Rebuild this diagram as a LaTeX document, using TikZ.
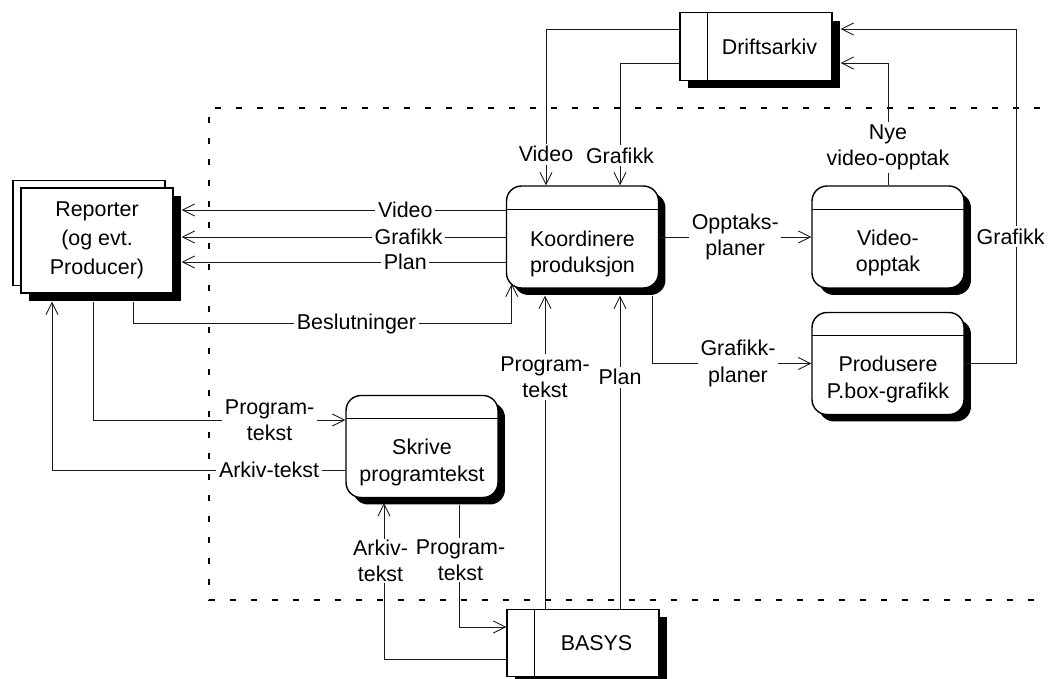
\documentclass[tikz,border=0pt]{standalone}
\usepackage{fontspec}
\setmainfont{Liberation Sans}
\usetikzlibrary{positioning,arrows.meta,calc,shadows}
\definecolor{ink}{HTML}{000000}
\definecolor{wire}{HTML}{1A1A1A}
\definecolor{paper}{HTML}{FFFFFF}
\tikzset{
  % ---- external entity, stores, processes ----
  ext/.style={draw=ink, line width=0.8pt, fill=paper, align=center, inner sep=2pt,
              minimum width=3.04cm, minimum height=2.1cm},
  extsh/.style={ext, drop shadow={shadow xshift=0.16cm, shadow yshift=-0.16cm, fill=ink, opacity=1}},
  store/.style={draw=ink, line width=0.8pt, fill=paper, inner sep=2pt,
                minimum width=3.04cm, minimum height=1.35cm,
                drop shadow={shadow xshift=0.16cm, shadow yshift=-0.16cm, fill=ink, opacity=1},
                path picture={\draw[line width=0.5pt]
                  ([xshift=0.54cm]path picture bounding box.north west) --
                  ([xshift=0.54cm]path picture bounding box.south west);},
                execute at begin node={\hspace*{0.54cm}}},
  proc/.style={draw=ink, line width=0.8pt, rounded corners=0.3cm, fill=paper,
               minimum width=3.04cm, minimum height=2.04cm,
               drop shadow={shadow xshift=0.14cm, shadow yshift=-0.14cm, fill=ink, opacity=1},
               path picture={\draw[line width=0.5pt]
                 ([yshift=-0.46cm]path picture bounding box.north west) --
                 ([yshift=-0.46cm]path picture bounding box.north east);}},
  ptxt/.style={align=center, inner sep=0pt},
  % ---- flows ----
  flow/.style={-{Straight Barb[length=0.24cm,width=0.24cm]}, line width=0.5pt, draw=wire},
  lbl/.style={fill=paper, inner sep=1.5pt, align=center},
  bound/.style={draw=ink, line width=0.6pt, dash pattern=on 0.12cm off 0.3cm},
}

\begin{document}
\begin{tikzpicture}[x=0.02cm, y=-0.02cm, font=\fontsize{12.2}{15}\selectfont]
  \useasboundingbox (0,0) rectangle (1048,679);
  % system boundary (open on the right)
  \draw[bound] (1040,108) -- (209,108) -- (209,600) -- (1040,600);
  % external entity and stores
  \node[ext] (repback) at (89,233) {};
  \node[extsh, font=\fontsize{12.2}{16.5}\selectfont] (rep) at (97,240.5) {Reporter\\(og evt.\\Producer)};
  \node[store] (drift) at (756,46.5) {Driftsarkiv};
  \node[store] (basys) at (583,643) {BASYS};
  % processes
  \node[proc] (koord)  at (582.5,237) {};
  \node[proc] (video)  at (888,237)   {};
  \node[proc] (prod)   at (888,363.5) {};
  \node[proc] (skrive) at (422,446.5) {};
  \node[ptxt] (koordt)  at ([yshift=-0.34cm]koord.center)  {Koordinere\\produksjon};
  \node[ptxt] (videot)  at ([yshift=-0.32cm]video.center)  {Video-\\opptak};
  \node[ptxt] (prodt)   at ([yshift=-0.32cm]prod.center)   {Produsere\\P.box-grafikk};
  \node[ptxt] (skrivet) at ([yshift=-0.32cm]skrive.center) {Skrive\\programtekst};
  \coordinate (repsh) at ([xshift=0.16cm]rep.east);
  \coordinate (kbot) at ([yshift=-0.14cm]koord.south);
  \coordinate (bq) at ([xshift=0.12cm,yshift=0.1cm]koord.south west);
  \coordinate (dg) at ([xshift=0.16cm,yshift=0.35cm]drift.east);
  % koordinere -> reporter
  \draw[flow] ([yshift=0.54cm]koord.west) coordinate (kv) -- node[lbl,pos=0.31]{Video} (kv -| repsh);
  \draw[flow] (koord.west) -- node[lbl,pos=0.30]{Grafikk} (koord.west -| repsh);
  \draw[flow] ([yshift=-0.5cm]koord.west) coordinate (kp) -- node[lbl,pos=0.31]{Plan} (kp -| repsh);
  % reporter -> koordinere
  \draw[flow] ([xshift=0.72cm,yshift=-0.16cm]rep.south) |- node[lbl,pos=0.795]{Beslutninger}
    ([yshift=-0.8cm]bq) -- (bq);
  % reporter <-> skrive
  \draw[flow] ([xshift=-0.08cm,yshift=-0.16cm]rep.south) |- node[lbl,pos=0.85]{Program-\\tekst}
    ([yshift=0.53cm]skrive.west);
  \draw[flow] ([yshift=-0.47cm]skrive.west) -| node[lbl,pos=0.13]{Arkiv-tekst}
    ([xshift=-0.9cm,yshift=-0.16cm]rep.south);
  % koordinere -> video, prod
  \draw[flow] (koord.east) -- node[lbl]{Opptaks-\\planer} (video.west);
  \draw[flow] ([xshift=1.39cm,yshift=-0.14cm]koord.south) |- node[lbl,pos=0.77]{Grafikk-\\planer} (prod.west);
  % into driftsarkiv
  \draw[flow] (prod.east) -| node[lbl,pos=0.69,xshift=-0.12cm]{Grafikk} ([xshift=3.52cm]dg) -- (dg);
  \draw[flow] (video.north) |- node[lbl,pos=0.155]{Nye\\video-opptak}
    ([xshift=0.16cm,yshift=-0.33cm]drift.east);
  % driftsarkiv -> koordinere
  \draw[flow] ([yshift=0.35cm]drift.west) -| node[lbl,pos=0.9]{Video} ([xshift=-0.73cm]koord.north);
  \draw[flow] ([yshift=-0.33cm]drift.west) -| node[lbl,pos=0.88]{Grafikk} ([xshift=0.75cm]koord.north);
  % basys -> koordinere
  \draw[flow] ([xshift=-0.76cm]basys.north) coordinate (b1) -- node[lbl,pos=0.74]{Program-\\tekst} (b1 |- kbot);
  \draw[flow] ([xshift=0.74cm]basys.north) coordinate (b2) -- node[lbl,pos=0.74]{Plan} (b2 |- kbot);
  % basys <-> skrive
  \draw[flow] ([yshift=-0.32cm]basys.west) -| node[lbl,pos=0.815,xshift=-0.07cm,inner sep=0.5pt]{Arkiv-\\tekst}
    ([xshift=-0.76cm,yshift=-0.1cm]skrive.south);
  \draw[flow] ([xshift=0.74cm,yshift=-0.14cm]skrive.south) |- node[lbl,pos=0.225,xshift=0.03cm,inner sep=0.5pt]{Program-\\tekst}
    ([yshift=0.32cm]basys.west);
\end{tikzpicture}
\end{document}
